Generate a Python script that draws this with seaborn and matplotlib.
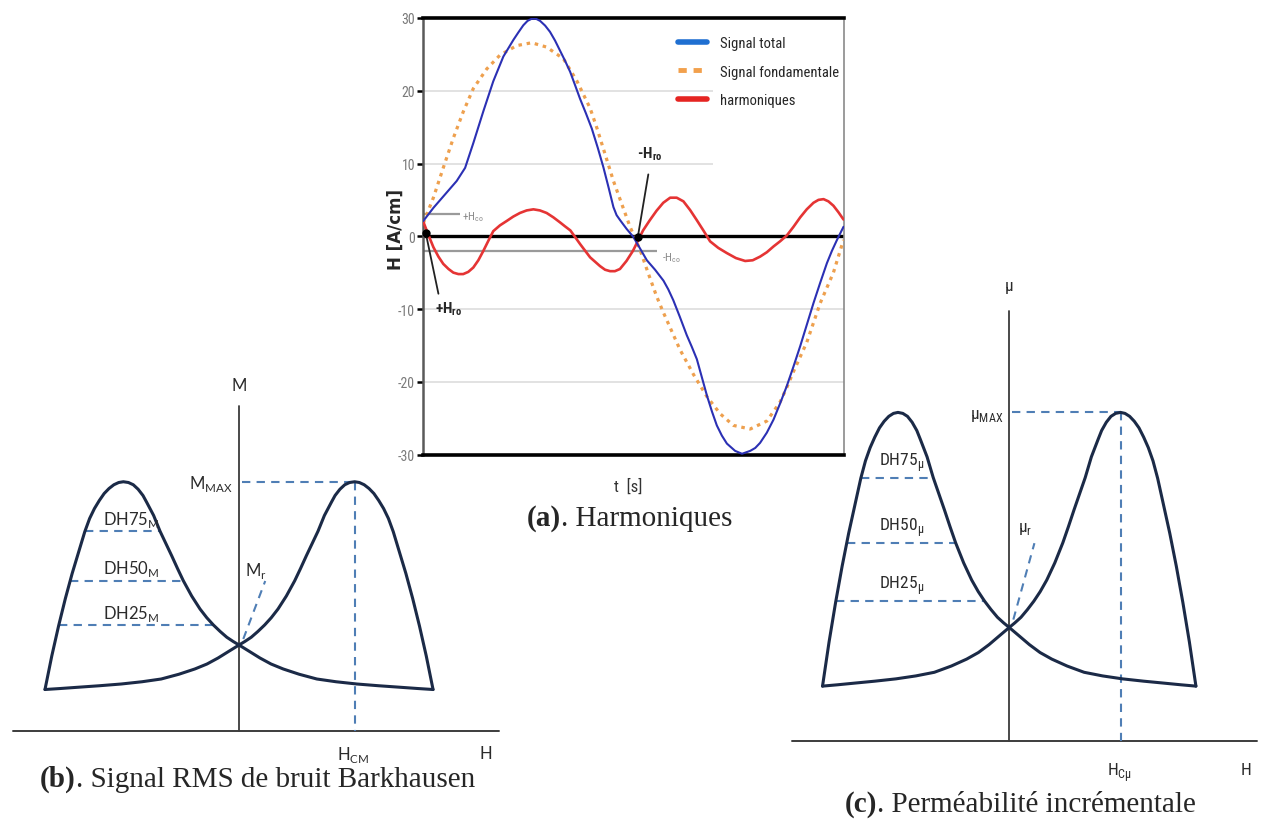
import numpy as np
import pandas as pd
import matplotlib
matplotlib.use("Agg")
import matplotlib.pyplot as plt
import seaborn as sns
from matplotlib import font_manager
from matplotlib.lines import Line2D

sns.set_style("white")
names = {f.name for f in font_manager.fontManager.ttflist}
NARROW = next((n for n in ["Liberation Sans Narrow", "Roboto Condensed", "Open Sans Condensed"] if n in names), "Roboto")
plt.rcParams["font.family"] = ["DejaVu Sans"]
plt.rcParams["axes.unicode_minus"] = False

# (a) signal H(t) over one period, t in ms
T_TOTAL = [0.0, 0.48, 1.11, 1.59, 1.99, 2.38, 2.86, 3.33, 3.81, 4.29, 4.52, 4.76, 4.96, 5.16, 5.36, 5.56, 5.8, 6.03, 6.27, 6.51,
           6.75, 6.99, 7.22, 7.46, 7.74, 8.02, 8.3, 8.57, 8.81, 9.05, 9.2, 9.37, 9.68, 10.0, 10.32, 10.64, 11.03, 11.43, 11.66, 11.9,
           12.2, 12.54, 12.78, 13.02, 13.26, 13.5, 13.74, 13.97, 14.21, 14.45, 14.84, 15.17, 15.56, 15.8, 16.03, 16.35, 16.67, 16.98, 17.3, 17.62,
           17.94, 18.25, 18.57, 18.89, 19.21, 19.45, 19.69, 20.0]
H_TOTAL = [2.1, 3.9, 6.0, 7.6, 9.4, 12.8, 17.2, 21.3, 24.7, 27.0, 28.0, 29.0, 29.6, 29.9, 29.9, 29.6, 28.95, 28.1, 26.9, 25.5,
           24.1, 22.6, 20.8, 18.9, 16.9, 14.8, 12.2, 9.5, 6.8, 4.0, 2.9, 2.2, 1.0, -0.1, -1.7, -3.3, -4.6, -6.1, -7.3, -8.8,
           -11.0, -13.6, -15.2, -16.9, -19.4, -21.9, -24.1, -26.0, -27.4, -28.5, -29.5, -29.9, -29.5, -29.1, -28.4, -27.0, -25.2, -23.0, -20.6, -17.9,
           -15.1, -12.2, -9.2, -6.4, -3.7, -2.0, -0.5, 1.3]
T_FUND = [0.0, 0.48, 0.95, 1.43, 1.90, 2.38, 3.02, 3.65, 4.44, 5.16, 5.87, 6.67, 7.30, 7.94, 8.26, 8.65, 9.05, 9.45, 9.84, 10.32,
          10.72, 11.11, 11.43, 12.22, 12.86, 13.49, 14.13, 14.76, 15.56, 16.35, 16.98, 17.30, 17.62, 18.25, 18.89, 19.52, 20.0]
H_FUND = [1.8, 5.3, 9.4, 13.5, 17.1, 20.3, 23.0, 24.9, 26.2, 26.6, 26.0, 24.4, 21.4, 17.6, 14.9, 11.3, 7.6, 4.4, 1.3, -1.9,
          -5.2, -8.3, -10.5, -15.6, -19.0, -22.0, -24.4, -26.0, -26.5, -25.4, -22.8, -20.8, -18.6, -14.6, -9.2, -5.0, -0.5]
T_HARM = [0.0, 0.24, 0.48, 0.72, 0.95, 1.2, 1.43, 1.67, 1.90, 2.14, 2.38, 2.62, 2.86, 3.1, 3.33, 3.65, 3.97, 4.28, 4.60, 4.92,
          5.24, 5.55, 5.87, 6.19, 6.51, 6.75, 7.0, 7.47, 7.94, 8.41, 8.65, 8.89, 9.12, 9.36, 9.67, 9.98, 10.22, 10.46, 10.78, 11.1,
          11.42, 11.75, 12.06, 12.38, 12.7, 13.02, 13.33, 13.65, 14.04, 14.44, 14.88, 15.32, 15.68, 16.03, 16.35, 16.67, 16.98, 17.30, 17.62, 17.94,
          18.25, 18.57, 18.81, 19.05, 19.28, 19.52, 19.76, 20.0]
H_HARM = [2.0, 0.2, -1.5, -2.8, -3.8, -4.5, -5.0, -5.2, -5.2, -4.9, -4.3, -3.3, -2.0, -0.6, 0.7, 1.5, 2.1, 2.7, 3.2, 3.55,
          3.7, 3.55, 3.2, 2.6, 1.9, 1.35, 0.8, -1.1, -2.9, -4.1, -4.6, -4.8, -4.8, -4.5, -3.4, -2.0, -0.6, 0.8, 2.2, 3.5,
          4.6, 5.3, 5.3, 4.8, 3.6, 2.2, 0.8, -0.7, -1.6, -2.3, -3.0, -3.4, -3.3, -2.8, -2.2, -1.4, -0.7, 0.1, 1.3, 2.6,
          3.7, 4.6, 5.0, 5.1, 4.8, 4.2, 3.3, 2.3]
LEGEND_LABELS = ["Signal total", "Signal fondamentale", "harmoniques"]
Y_TICKS = [-30, -20, -10, 0, 10, 20, 30]
H_CO = [3.1, -2.0]          # +Hco / -Hco levels
H_RO_T = [0.12, 10.21]      # +Hro / -Hro instants

# (b) and (c) share the same schematic profile (normalised units)
H_DESC = [-10.0, -9.65, -9.3, -8.95, -8.6, -8.25, -7.95, -7.7, -7.45, -7.2, -6.95, -6.7, -6.45, -6.2, -5.96, -5.7,
          -5.45, -5.2, -4.95, -4.76, -4.4, -4.07, -3.77, -3.47, -3.17, -2.87, -2.44, -2.01, -1.66, -1.32, -0.97, -0.63,
          -0.3, 0.0, 0.5, 1.08, 1.65, 2.28, 3.1, 4.01, 5.0, 6.07, 7.2, 8.3, 9.2, 10.0]
M_DESC = [1.66, 3.0, 4.2, 5.3, 6.3, 7.2, 7.97, 8.5, 8.9, 9.22, 9.5, 9.7, 9.85, 9.94, 9.97, 9.94,
          9.85, 9.67, 9.42, 9.15, 8.62, 7.99, 7.5, 7.01, 6.5, 6.01, 5.4, 4.88, 4.53, 4.24, 3.98, 3.75,
          3.58, 3.44, 3.2, 2.92, 2.68, 2.48, 2.27, 2.08, 1.97, 1.88, 1.81, 1.75, 1.7, 1.66]
H_ASC = [-10.0, -9.2, -8.3, -7.2, -6.07, -5.0, -4.01, -3.1, -2.28, -1.65, -1.08, -0.5, 0.0, 0.3, 0.63, 0.97,
         1.32, 1.66, 2.01, 2.44, 2.87, 3.17, 3.47, 3.77, 4.07, 4.4, 4.76, 4.95, 5.2, 5.45, 5.7, 5.96,
         6.2, 6.45, 6.7, 6.95, 7.2, 7.45, 7.7, 7.95, 8.25, 8.6, 8.95, 9.3, 9.65, 10.0]
M_ASC = [1.66, 1.7, 1.75, 1.81, 1.88, 1.97, 2.08, 2.27, 2.48, 2.68, 2.92, 3.2, 3.44, 3.58, 3.75, 3.98,
         4.24, 4.53, 4.88, 5.4, 6.01, 6.5, 7.01, 7.5, 7.99, 8.62, 9.15, 9.42, 9.67, 9.85, 9.94, 9.97,
         9.94, 9.85, 9.7, 9.5, 9.22, 8.9, 8.5, 7.97, 7.2, 6.3, 5.3, 4.2, 3.0, 1.66]
H_PEAK, M_PEAK = 6.0, 9.97
DH_LEVELS = [7.99, 6.01, 4.24]
DH_LEFT = [-7.94, -8.7, -9.29]
DH_RIGHT = [-4.07, -2.87, -1.32]
DH_NAMES = ["DH75", "DH50", "DH25"]

W, HP = 1270, 820
fig = plt.figure(figsize=(12.7, 8.2), dpi=100)
fig.patch.set_facecolor("white")


def px_axes(l, t, r, b):
    return fig.add_axes([l / W, 1 - b / HP, (r - l) / W, (b - t) / HP])


def caption(x, y, tag, rest):
    t1 = fig.text(x / W, 1 - y / HP, tag, fontsize=21, fontweight="bold", family="Liberation Serif", va="baseline")
    fig.canvas.draw()
    bb = t1.get_window_extent(fig.canvas.get_renderer())
    fig.text(bb.x1 / W, 1 - y / HP, rest, fontsize=21, family="Liberation Serif", va="baseline")


# ---- (b) and (c) schematics ----
panels = [
    dict(box=(12, 380, 500, 760), xlim=(-11.7, 13.45), ylim=(-1.12, 14.08), haxis=(-11.65, 13.4), vtop=13.0,
         sym="M", hc="CM", font="Lato", size=12),
    dict(box=(785, 280, 1265, 780), xlim=(-12.01, 13.70), ylim=(-1.16, 14.02), haxis=(-11.65, 13.25), vtop=13.05,
         sym="μ", hc="Cμ", font=NARROW, size=12.5),
]
curve_df = pd.concat([
    pd.DataFrame({"H": H_DESC, "M": M_DESC, "branche": "desc"}),
    pd.DataFrame({"H": H_ASC, "M": M_ASC, "branche": "asc"}),
])
guide = dict(color="#4f7eb5", lw=1.5, ls=(0, (4, 3)))
for p in panels:
    ax = px_axes(*p["box"])
    ax.patch.set_visible(False)
    ax.set_xlim(p["xlim"])
    ax.set_ylim(p["ylim"])
    ax.axis("off")
    txt = dict(family=p["font"], fontsize=p["size"], color="#2b2b2b")
    ax.plot(p["haxis"], [0, 0], color="#3c3c3c", lw=1.4)
    ax.plot([0, 0], [0, p["vtop"]], color="#3c3c3c", lw=1.3)
    ax.plot([0.15, H_PEAK], [M_PEAK, M_PEAK], **guide)
    ax.plot([H_PEAK, H_PEAK], [M_PEAK, 0], **guide)
    for lvl, lft, rgt, nm in zip(DH_LEVELS, DH_LEFT, DH_RIGHT, DH_NAMES):
        ax.plot([lft, rgt], [lvl, lvl], **guide)
        ax.text(-7.0, lvl + 0.5, nm + r"$_{\mathregular{%s}}$" % p["sym"], ha="left", va="center", **txt)
    ax.plot([0.22, 1.35], [3.68, 6.0], **guide)
    sns.lineplot(data=curve_df, x="H", y="M", hue="branche", palette=["#1b2a47", "#1b2a47"],
                 estimator=None, sort=False, legend=False, lw=2.2, ax=ax)
    ax.text(0.85, 6.45, p["sym"] + r"$_{\mathregular{r}}$", ha="center", va="center", **txt)
    ax.text(-0.3, 9.9, p["sym"] + r"$_{\mathregular{MAX}}$", ha="right", va="center", **txt)
    ax.text(0.0, 13.83, p["sym"], ha="center", va="center", **txt)
    ax.text(12.7, -0.88, "H", ha="center", va="center", **txt)
    ax.text(5.9, -0.92, r"H$_{\mathregular{%s}}$" % p["hc"], ha="center", va="center", **txt)

# ---- (a) harmonics ----
ax = px_axes(423.3, 19, 843.5, 455.5)
sig = pd.concat([
    pd.DataFrame({"t": T_FUND, "H": H_FUND, "serie": LEGEND_LABELS[1]}),
    pd.DataFrame({"t": T_HARM, "H": H_HARM, "serie": LEGEND_LABELS[2]}),
    pd.DataFrame({"t": T_TOTAL, "H": H_TOTAL, "serie": LEGEND_LABELS[0]}),
])
sns.lineplot(data=sig, x="t", y="H", hue="serie", style="serie", size="serie",
             palette={LEGEND_LABELS[0]: "#2b30b4", LEGEND_LABELS[1]: "#eea04e", LEGEND_LABELS[2]: "#e53434"},
             dashes={LEGEND_LABELS[0]: "", LEGEND_LABELS[1]: (1.1, 1.5), LEGEND_LABELS[2]: ""},
             sizes={LEGEND_LABELS[0]: 1.5, LEGEND_LABELS[1]: 2.3, LEGEND_LABELS[2]: 1.9},
             estimator=None, sort=False, legend=False, ax=ax, zorder=3)
ax.set_xlim(0, 20)
ax.set_ylim(-30, 30)
ax.set_xticks([])
ax.set_yticks(Y_TICKS)
ax.set_xlabel("")
ax.set_ylabel("")
ax.hlines([-20, -10], 0, 20, color="#dddddd", lw=1.2, zorder=1)
ax.hlines([10, 20], 0, 13.8, color="#dddddd", lw=1.2, zorder=1)
ax.axhline(0, color="black", lw=2.4, zorder=2)
ax.tick_params(axis="y", left=True, length=4, width=1.8, color="black", labelcolor="#7a7a7a", labelsize=10, pad=2)
for lab in ax.get_yticklabels():
    lab.set_family(NARROW)
for side, lw, col in [("top", 2.6, "black"), ("bottom", 2.6, "black"), ("left", 1.8, "#5a5a5a"), ("right", 1.2, "#8a8a8a")]:
    ax.spines[side].set_linewidth(lw)
    ax.spines[side].set_color(col)
    ax.spines[side].set_visible(True)

# coercive / remanent markers
ax.hlines(H_CO[0], 0, 1.75, color="#9a9a9a", lw=1.6, zorder=2)
ax.hlines(H_CO[1], 0, 11.1, color="#9a9a9a", lw=1.6, zorder=2)
ax.text(1.83, H_CO[0] - 0.3, r"+H$_{\mathregular{co}}$", color="#8a8a8a", fontsize=8, va="center", family=NARROW)
ax.text(11.35, H_CO[1] - 0.8, r"-H$_{\mathregular{co}}$", color="#8a8a8a", fontsize=8, va="center", family=NARROW)
ax.plot([H_RO_T[0], 0.72], [0.4, -7.9], color="#222222", lw=1.3, zorder=4)
ax.plot([H_RO_T[1], 10.71], [-0.1, 8.5], color="#222222", lw=1.3, zorder=4)
ax.plot(H_RO_T, [0.4, -0.1], "o", color="black", ms=5, zorder=5, clip_on=False)
ax.text(0.55, -9.9, r"+H$_{\mathregular{ro}}$", fontsize=11, fontweight="bold", va="center", family=NARROW)
ax.text(10.15, 11.4, r"-H$_{\mathregular{ro}}$", fontsize=11, fontweight="bold", va="center", family=NARROW)

handles = [Line2D([], [], color="#1f6fd1", lw=4),
           Line2D([], [], color="#f2a04c", lw=3.5, ls=(0, (1.7, 1.4))),
           Line2D([], [], color="#e52421", lw=4)]
ax.legend(handles, LEGEND_LABELS, loc="upper left", bbox_to_anchor=(678 / W, 1 - 37 / HP),
          bbox_transform=fig.transFigure, frameon=False, handlelength=2.0, handletextpad=0.9,
          labelspacing=1.0, borderpad=0, borderaxespad=0, prop={"family": NARROW, "size": 10.5})

fig.text(396 / W, 1 - 230 / HP, "H [A/cm]", rotation=90, fontweight="bold", fontsize=12, ha="center", va="center")
fig.text(628 / W, 1 - 487 / HP, "t  [s]", fontsize=12, ha="center", va="center", family=NARROW, color="#333333")

caption(526.7, 526, "(a)", ". Harmoniques")
caption(40, 787, "(b)", ". Signal RMS de bruit Barkhausen")
caption(845, 812, "(c)", ". Perméabilité incrémentale")

fig.savefig("out.png", dpi=100, facecolor="white")
